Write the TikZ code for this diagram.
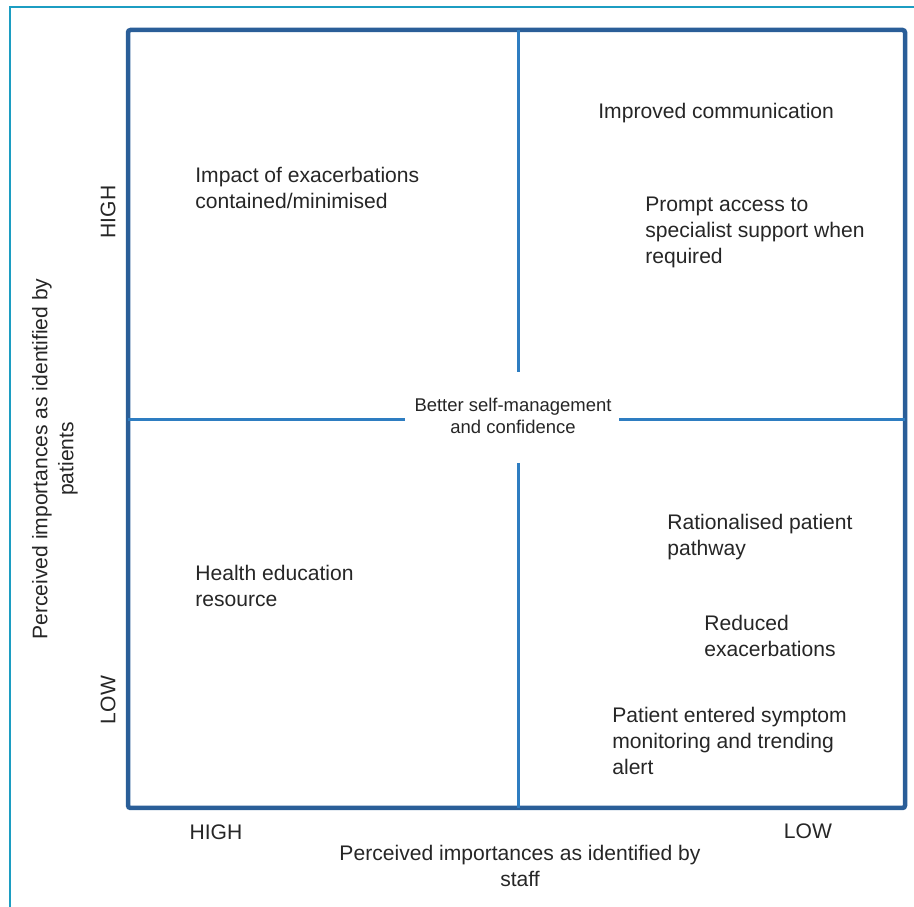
\documentclass[tikz,border=0pt]{standalone}
\usepackage{fontspec}
\setmainfont{Liberation Sans}
\usetikzlibrary{calc}
\definecolor{framecyan}{HTML}{1C9DC2}
\definecolor{boxblue}{HTML}{2A5E98}
\definecolor{crossblue}{HTML}{2E7DC1}
\definecolor{textgrey}{HTML}{262626}
\tikzset{
    quadtext/.style={inner sep=0pt, text=textgrey, font=\fontsize{12}{14.8}\selectfont, align=left, anchor=west},
    axistext/.style={inner sep=0pt, text=textgrey, font=\fontsize{12}{14.8}\selectfont, align=center},
}

\begin{document}
\begin{tikzpicture}
    \useasboundingbox (0,0) rectangle (18.28,18.14);
    % frame
    \draw [draw=framecyan, line width=0.55mm] (0.2,0) -- (0.2,18.0) -- (18.28,18.0);
    % quadrant box
    \coordinate (NW) at (2.56,17.54);
    \coordinate (SE) at (18.10,1.98);
    \draw [draw=boxblue, line width=0.9mm, rounded corners=0.5mm] (NW) rectangle (SE);
    \node [axistext, font=\fontsize{10.5}{12.5}\selectfont] (centre) at (10.26,9.82) {Better self-management\\and confidence};
    \coordinate (top)    at (10.36,17.54);
    \coordinate (bottom) at (10.36,1.98);
    \coordinate (left)   at (2.56,9.74);
    \coordinate (right)  at (18.10,9.74);
    \draw [draw=crossblue, line width=0.6mm] (top) -- (10.36,10.70);
    \draw [draw=crossblue, line width=0.6mm] (10.36,8.88) -- (bottom);
    \draw [draw=crossblue, line width=0.6mm] (left) -- (8.10,9.74);
    \draw [draw=crossblue, line width=0.6mm] (12.38,9.74) -- (right);
    % quadrants
    \node [quadtext] (impact)   at (3.90,14.39) {Impact of exacerbations\\contained/minimised};
    \node [quadtext] (improved) at (11.96,15.87) {Improved communication};
    \node [quadtext] (prompt)   at (12.90,13.50) {Prompt access to\\specialist support when\\required};
    \node [quadtext] (health)   at (3.90,6.42) {Health education\\resource};
    \node [quadtext] (pathway)  at (13.34,7.40) {Rationalised patient\\pathway};
    \node [quadtext] (reduced)  at (14.08,5.42) {Reduced\\exacerbations};
    \node [quadtext] (alert)    at (12.24,3.32) {Patient entered symptom\\monitoring and trending\\alert};
    % axes
    \node [axistext] (xhigh) at (4.32,1.50) {HIGH};
    \node [axistext] (xlow)  at (16.16,1.52) {LOW};
    \node [axistext] (xname) at (10.40,0.82) {Perceived importances as identified by\\staff};
    \node [axistext, rotate=90] (yhigh) at (2.16,13.90) {HIGH};
    \node [axistext, rotate=90] (ylow)  at (2.16,4.14) {LOW};
    \node [axistext, rotate=90] (yname) at (1.10,8.96) {Perceived importances as identified by\\patients};
\end{tikzpicture}
\end{document}
